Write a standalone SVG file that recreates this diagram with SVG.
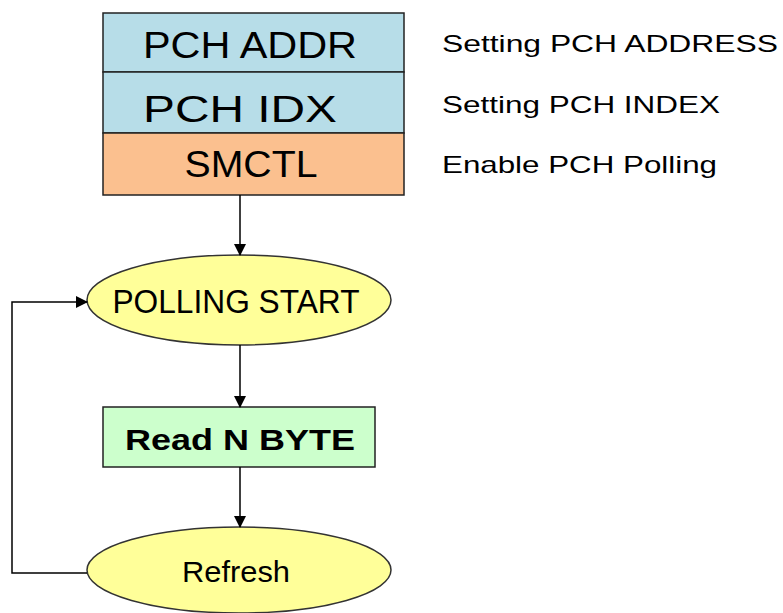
<svg xmlns="http://www.w3.org/2000/svg" width="783" height="613" viewBox="0 0 783 613">
<defs>
<marker id="arr" markerWidth="12" markerHeight="12" refX="11" refY="6" orient="auto" markerUnits="userSpaceOnUse">
<path d="M0,0 L12,6 L0,12 Z" fill="#000"/>
</marker>
<style>
text{font-family:"Liberation Sans",Arial,sans-serif;fill:#000}
.box{stroke:#222;stroke-width:1.5}
.ell{fill:#ffff99;stroke:#333;stroke-width:1.5}
.c{text-anchor:middle}
.side{font-size:24px}
.con{fill:none;stroke:#000;stroke-width:1.5}
</style>
</defs>
<rect width="783" height="613" fill="#fff"/>
<g id="pch-addr">
<rect class="box" x="103" y="13" width="301" height="59" fill="#b7dde8"/>
<text class="c" x="250" y="58" font-size="36" textLength="214" lengthAdjust="spacingAndGlyphs">PCH ADDR</text>
</g>
<g id="pch-idx">
<rect class="box" x="103" y="72" width="301" height="61" fill="#b7dde8"/>
<text class="c" x="240" y="122" font-size="36" textLength="194" lengthAdjust="spacingAndGlyphs">PCH IDX</text>
</g>
<g id="smctl">
<rect class="box" x="103" y="133" width="301" height="62" fill="#fbc08f"/>
<text class="c" x="251" y="177" font-size="36" textLength="133" lengthAdjust="spacingAndGlyphs">SMCTL</text>
</g>
<g id="labels">
<text class="side" x="442" y="52" textLength="336" lengthAdjust="spacingAndGlyphs">Setting PCH ADDRESS</text>
<text class="side" x="442" y="113" textLength="278" lengthAdjust="spacingAndGlyphs">Setting PCH INDEX</text>
<text class="side" x="442" y="173" textLength="275" lengthAdjust="spacingAndGlyphs">Enable PCH Polling</text>
</g>
<g id="polling-start">
<ellipse class="ell" cx="239" cy="300" rx="152" ry="45"/>
<text class="c" x="236" y="313" font-size="33" textLength="247" lengthAdjust="spacingAndGlyphs">POLLING START</text>
</g>
<g id="read-n-byte">
<rect class="box" x="103" y="407" width="272" height="60" fill="#ccffcc"/>
<text class="c" x="240" y="450" font-size="30" font-weight="bold" textLength="230" lengthAdjust="spacingAndGlyphs">Read N BYTE</text>
</g>
<g id="refresh">
<ellipse class="ell" cx="239" cy="570" rx="152" ry="43"/>
<text class="c" x="236" y="582" font-size="29" textLength="108" lengthAdjust="spacingAndGlyphs">Refresh</text>
</g>
<g id="connectors">
<line class="con" x1="240" y1="195" x2="240" y2="255" marker-end="url(#arr)"/>
<line class="con" x1="240" y1="345" x2="240" y2="407" marker-end="url(#arr)"/>
<line class="con" x1="240" y1="467" x2="240" y2="527" marker-end="url(#arr)"/>
<polyline class="con" points="87,573 12,573 12,302 87,302" marker-end="url(#arr)"/>
</g>
</svg>
